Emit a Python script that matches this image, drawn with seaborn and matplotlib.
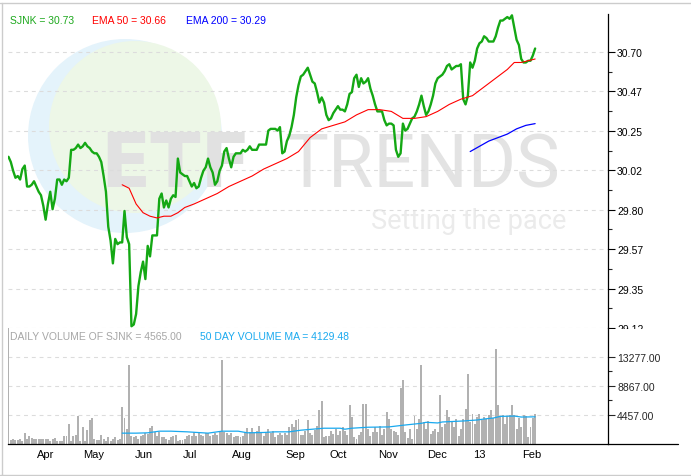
import numpy as np
import pandas as pd
import matplotlib
matplotlib.use("Agg")
import matplotlib.pyplot as plt
import seaborn as sns
from matplotlib.patches import Ellipse, Rectangle
from matplotlib.lines import Line2D
from matplotlib.transforms import blended_transform_factory

# ---- data ----
# trading days, NYSE holidays + Sandy closure taken out
holidays = ["2012-04-06", "2012-05-28", "2012-07-04", "2012-09-03", "2012-10-29",
            "2012-10-30", "2012-11-22", "2012-12-25", "2013-01-01", "2013-01-21"]
dates = pd.bdate_range("2012-03-16", "2013-02-12", freq="C", holidays=holidays)

price = [
    30.10, 30.07, 30.02, 29.98, 29.99, 29.97, 30.03, 30.05, 29.93, 29.93,
    29.94, 29.96, 29.93, 29.90, 29.88, 29.82, 29.74, 29.83, 29.90, 29.80,
    29.86, 29.97, 29.97, 29.94, 29.97, 29.96, 29.98, 30.14, 30.14, 30.15,
    30.17, 30.15, 30.16, 30.18, 30.16, 30.15, 30.13, 30.12, 30.12, 30.10,
    30.07, 29.99, 29.90, 29.70, 29.62, 29.49, 29.63, 29.60, 29.61, 29.61,
    29.79, 29.64, 29.60, 29.13, 29.14, 29.20, 29.36, 29.44, 29.50, 29.40,
    29.59, 29.53, 29.65, 29.65, 29.65, 29.86, 29.89, 29.81, 29.85, 29.81,
    29.86, 29.88, 29.87, 30.09, 30.01, 30.00, 29.99, 29.99, 29.96, 29.93,
    29.95, 29.92, 29.93, 29.98, 30.02, 30.04, 30.09, 30.04, 30.01, 29.94,
    29.96, 30.02, 30.05, 30.13, 30.15, 30.09, 30.04, 30.10, 30.12, 30.12,
    30.12, 30.14, 30.13, 30.14, 30.16, 30.14, 30.14, 30.14, 30.17, 30.17,
    30.17, 30.17, 30.25, 30.26, 30.26, 30.26, 30.25, 30.27, 30.12, 30.13,
    30.19, 30.22, 30.27, 30.34, 30.44, 30.51, 30.56, 30.57, 30.59, 30.61,
    30.57, 30.53, 30.52, 30.47, 30.41, 30.44, 30.41, 30.34, 30.31, 30.32,
    30.35, 30.37, 30.39, 30.37, 30.37, 30.36, 30.40, 30.46, 30.47, 30.55,
    30.57, 30.50, 30.55, 30.52, 30.53, 30.55, 30.49, 30.45, 30.40, 30.36,
    30.36, 30.36, 30.31, 30.28, 30.29, 30.29, 30.28, 30.14, 30.10, 30.12,
    30.29, 30.25, 30.26, 30.29, 30.32, 30.33, 30.36, 30.40, 30.45, 30.39,
    30.34, 30.36, 30.40, 30.45, 30.52, 30.55, 30.56, 30.57, 30.59, 30.62,
    30.63, 30.60, 30.61, 30.62, 30.62, 30.63, 30.43, 30.40, 30.45, 30.64,
    30.61, 30.65, 30.72, 30.75, 30.76, 30.79, 30.78, 30.76, 30.76, 30.76,
    30.79, 30.84, 30.88, 30.88, 30.89, 30.90, 30.89, 30.91, 30.84, 30.77,
    30.74, 30.66, 30.64, 30.64, 30.65, 30.65, 30.68, 30.72,
]

ema50_day = [49, 52, 55, 58, 61, 64, 67, 70, 73, 76, 80, 85, 90, 95, 100, 105, 110,
             115, 120, 125, 130, 135, 140, 145, 150, 155, 160, 165, 170, 175, 180,
             185, 190, 195, 200, 205, 210, 215, 218, 221, 227]
ema50 = [29.94, 29.92, 29.83, 29.78, 29.76, 29.75, 29.76, 29.76, 29.78, 29.81, 29.83,
         29.86, 29.89, 29.93, 29.96, 29.99, 30.03, 30.06, 30.09, 30.13, 30.21, 30.26,
         30.28, 30.30, 30.34, 30.37, 30.37, 30.36, 30.32, 30.32, 30.33, 30.36, 30.40,
         30.43, 30.45, 30.50, 30.55, 30.60, 30.64, 30.64, 30.66]

ema200_day = [199, 203, 207, 211, 215, 219, 223, 227]
ema200 = [30.13, 30.16, 30.19, 30.21, 30.23, 30.26, 30.28, 30.29]

volume = [
    17700, 660, 770, 615, 660, 770, 510, 1640, 770, 1180,
    880, 770, 770, 770, 770, 770, 770, 770, 510, 770,
    920, 410, 410, 410, 1280, 1180, 3070, 410, 1180, 1380,
    4200, 510, 2570, 510, 2200, 3580, 3950, 770, 615, 615,
    1380, 770, 510, 1030, 510, 770, 1030, 615, 770, 5640,
    3950, 2300, 11990, 1280, 1030, 1280, 770, 1180, 1380, 1690,
    1540, 2410, 2720, 1800, 1280, 1800, 1030, 1030, 770, 660,
    1030, 1180, 1380, 510, 615, 615, 770, 1180, 1380, 1180,
    1890, 1280, 1800, 1380, 1180, 1690, 1640, 1180, 1380, 1690,
    1380, 1800, 12800, 1800, 1690, 1380, 1690, 1030, 1180, 1180,
    1030, 1180, 1890, 2410, 1890, 2410, 1690, 2040, 2720, 1640,
    1180, 1690, 2300, 1690, 2040, 1030, 1380, 1690, 1380, 1640,
    1380, 2660, 3070, 2570, 3580, 3730, 1380, 1380, 2040, 3580,
    1690, 1380, 2200, 2720, 5120, 6500, 1030, 1280, 1280, 2040,
    1540, 2300, 1380, 2040, 2570, 2040, 1380, 5890, 4100, 1030,
    770, 1380, 1800, 6150, 6150, 2300, 1280, 1800, 2570, 1800,
    2810, 1380, 2300, 4870, 3840, 2300, 2040, 1800, 1380, 8560,
    9730, 1800, 880, 2300, 770, 4260, 2300, 3730, 12030, 3340,
    2300, 3430, 1540, 2040, 2300, 1800, 7420, 2570, 3070, 5120,
    4100, 3340, 2570, 3840, 1280, 2300, 3840, 5270, 10600, 3340,
    4610, 3070, 4100, 4610, 3580, 4100, 3840, 4460, 5230, 3950,
    14450, 5990, 4100, 4460, 3070, 4260, 4350, 5990, 4460, 2300,
    3950, 2570, 4350, 4260, 1030, 2570, 4000, 4565,
]

volma_day = [49, 55, 60, 65, 70, 77, 86, 92, 99, 103, 110, 115, 121, 126, 131, 136,
             143, 145, 148, 155, 164, 170, 178, 180, 185, 187, 196, 202, 205, 209,
             212, 218, 221, 227]
volma = [1650, 1650, 1700, 1950, 1950, 1850, 1650, 1950, 1950, 1700, 1750, 1850, 1850,
         2100, 2250, 2400, 2400, 2250, 2400, 2550, 2600, 2850, 3150, 3300, 3200, 3350,
         3500, 3650, 3800, 3950, 4200, 4250, 4100, 4130]

price_ticks = [29.12, 29.35, 29.57, 29.80, 30.02, 30.25, 30.47, 30.70]
vol_ticks = [4457, 8867, 13277]

GREEN = "#14a814"
VOLGRAY = "#b1b1b1"
VOLBLUE = "#19a9ef"

# ---- figure / layout in pixels ----
W, H = 691, 477
sns.set_style("white")
plt.rcParams["font.family"] = ["Liberation Sans", "DejaVu Sans"]

fig = plt.figure(figsize=(W / 100, H / 100), dpi=100)


def box(l, t, r, b):
    return [l / W, 1 - b / H, (r - l) / W, (b - t) / H]


def px(x, y):
    return x / W, 1 - y / H


ax = fig.add_axes(box(8, 15, 608, 329), zorder=1)
axv = fig.add_axes(box(8, 329, 608, 445), zorder=3)
for a in (ax, axv):
    a.set_facecolor("none")

# watermark
fig.add_artist(Ellipse(px(125, 137), 194 / W, 194 / H, transform=fig.transFigure,
                       color="#e4f3fb", lw=0, zorder=0.2))
fig.add_artist(Ellipse(px(135, 128), 172 / W, 172 / H, transform=fig.transFigure,
                       color="#edf7e7", lw=0, zorder=0.3))
fig.text(*px(100, 187), "ETF", fontsize=53, fontweight="bold", family="DejaVu Sans",
         color="#e1e1e1", va="baseline", ha="left", zorder=0.4)
fig.text(*px(284, 187), "TRENDS", fontsize=53, family="Roboto",
         color="#e3e3e3", va="baseline", ha="left", zorder=0.4)
fig.text(*px(371, 229), "Setting the pace", fontsize=19.5, family="Roboto",
         color="#ebebeb", va="baseline", ha="left", zorder=0.4)

# ---- price panel ----
days = np.arange(len(price))
sns.lineplot(x=days, y=price, ax=ax, color=GREEN, linewidth=1.7, errorbar=None)
sns.lineplot(x=ema50_day, y=ema50, ax=ax, color="#ff0000", linewidth=0.8, errorbar=None)
sns.lineplot(x=ema200_day, y=ema200, ax=ax, color="#0000ff", linewidth=0.9, errorbar=None)

x_lo = (8 - 8.5) / 2.32
x_hi = (608 - 8.5) / 2.32
step = (30.70 - 29.12) / 7
ax.set_xlim(x_lo, x_hi)
ax.set_ylim(29.12, 29.12 + 314 / 276 * 1.58)
major = [29.12 + k * step for k in range(8)]
ax.set_yticks(major)
ax.set_yticklabels([f"{v:.2f}" for v in price_ticks])
ax.set_yticks([m + step / 2 for m in major[:-1]], minor=True)
ax.yaxis.tick_right()
ax.tick_params(axis="y", which="major", direction="out", length=5, width=0.8,
               labelsize=7.5, pad=1.5, colors="black")
ax.tick_params(axis="y", which="minor", direction="out", length=3, width=0.8)
ax.set_xticks([])
ax.grid(axis="y", which="major", color="#dcdcdc", linestyle=(0, (3.5, 3.5)), linewidth=0.8)
for s in ("top", "left", "bottom"):
    ax.spines[s].set_visible(False)
ax.spines["right"].set_color("black")
ax.spines["right"].set_linewidth(0.9)
ax.set_xlabel("")
ax.set_ylabel("")

# hide lower half of the 29.12 label like the original
fig.add_artist(Rectangle(px(609, 348), 80 / W, 18.5 / H, transform=fig.transFigure,
                         color="white", lw=0, zorder=2))

# ---- volume panel ----
sns.barplot(x=days, y=volume, ax=axv, color=VOLGRAY, saturation=1, width=0.85,
            native_scale=True, orient="x", linewidth=0, errorbar=None)
sns.lineplot(x=volma_day, y=volma, ax=axv, color=VOLBLUE, linewidth=0.9, errorbar=None)
axv.set_xlim(x_lo, x_hi)
axv.set_ylim(0, 116 * 4410 / 29)
axv.set_yticks(vol_ticks)
axv.set_yticklabels([f"{v:.2f}" for v in vol_ticks])
axv.set_yticks([6662, 11072], minor=True)
axv.yaxis.tick_right()
axv.tick_params(axis="y", which="major", direction="out", length=5, width=0.8,
                labelsize=7.5, pad=1.5)
axv.tick_params(axis="y", which="minor", direction="out", length=3, width=0.8)
axv.grid(axis="y", which="major", color="#dcdcdc", linestyle=(0, (3.5, 3.5)), linewidth=0.8)
axv.grid(axis="x", visible=False)
for s in ("top", "left"):
    axv.spines[s].set_visible(False)
for s in ("right", "bottom"):
    axv.spines[s].set_color("black")
    axv.spines[s].set_linewidth(0.9)
axv.set_xlabel("")
axv.set_ylabel("")

# month ticks
month_pos = [i for i in range(1, len(dates)) if dates[i].month != dates[i - 1].month]
month_lab = ["13" if dates[i].month == 1 else dates[i].strftime("%b") for i in month_pos]
axv.set_xticks(month_pos)
axv.set_xticklabels([])
axv.tick_params(axis="x", direction="out", length=14, width=0.9, colors="black")
tr = blended_transform_factory(axv.transData, axv.transAxes)
for p, lab in zip(month_pos, month_lab):
    axv.text(p + 1.3, -10.5 / 116, lab, transform=tr, ha="left", va="center",
             fontsize=8, color="black")

# bottom line runs on past the price scale
fig.add_artist(Line2D([608 / W, 678 / W], [1 - 445 / H] * 2, color="black", lw=0.9,
                      transform=fig.transFigure, zorder=4))

# ---- header texts ----
fig.text(*px(10, 21.5), "SJNK = 30.73", color="#1ca81c", fontsize=7.5, va="center")
fig.text(*px(92.5, 21.5), "EMA 50 = 30.66", color="#ff0000", fontsize=7.5, va="center")
fig.text(*px(186.5, 21.5), "EMA 200 = 30.29", color="#0000ff", fontsize=7.5, va="center")
fig.text(*px(10, 336.5), "DAILY VOLUME OF SJNK = 4565.00", color="#a6a6a6", fontsize=7.5,
         va="center", zorder=5)
fig.text(*px(200, 336.5), "50 DAY VOLUME MA = 4129.48", color=VOLBLUE, fontsize=7.5,
         va="center", zorder=5)

# outer frame
fig.add_artist(Line2D([0, 1], [1 - 3.5 / H] * 2, color="#cccccc", lw=1,
                      transform=fig.transFigure))
fig.add_artist(Line2D([1.5 / W] * 2, [1 - 3.5 / H, 1 - 475.5 / H], color="#cccccc", lw=1,
                      transform=fig.transFigure))
fig.add_artist(Line2D([0, 1], [1 - 475.5 / H] * 2, color="#cccccc", lw=1,
                      transform=fig.transFigure))

print(len(dates), len(price), len(volume))
fig.savefig("out.png", dpi=100)
